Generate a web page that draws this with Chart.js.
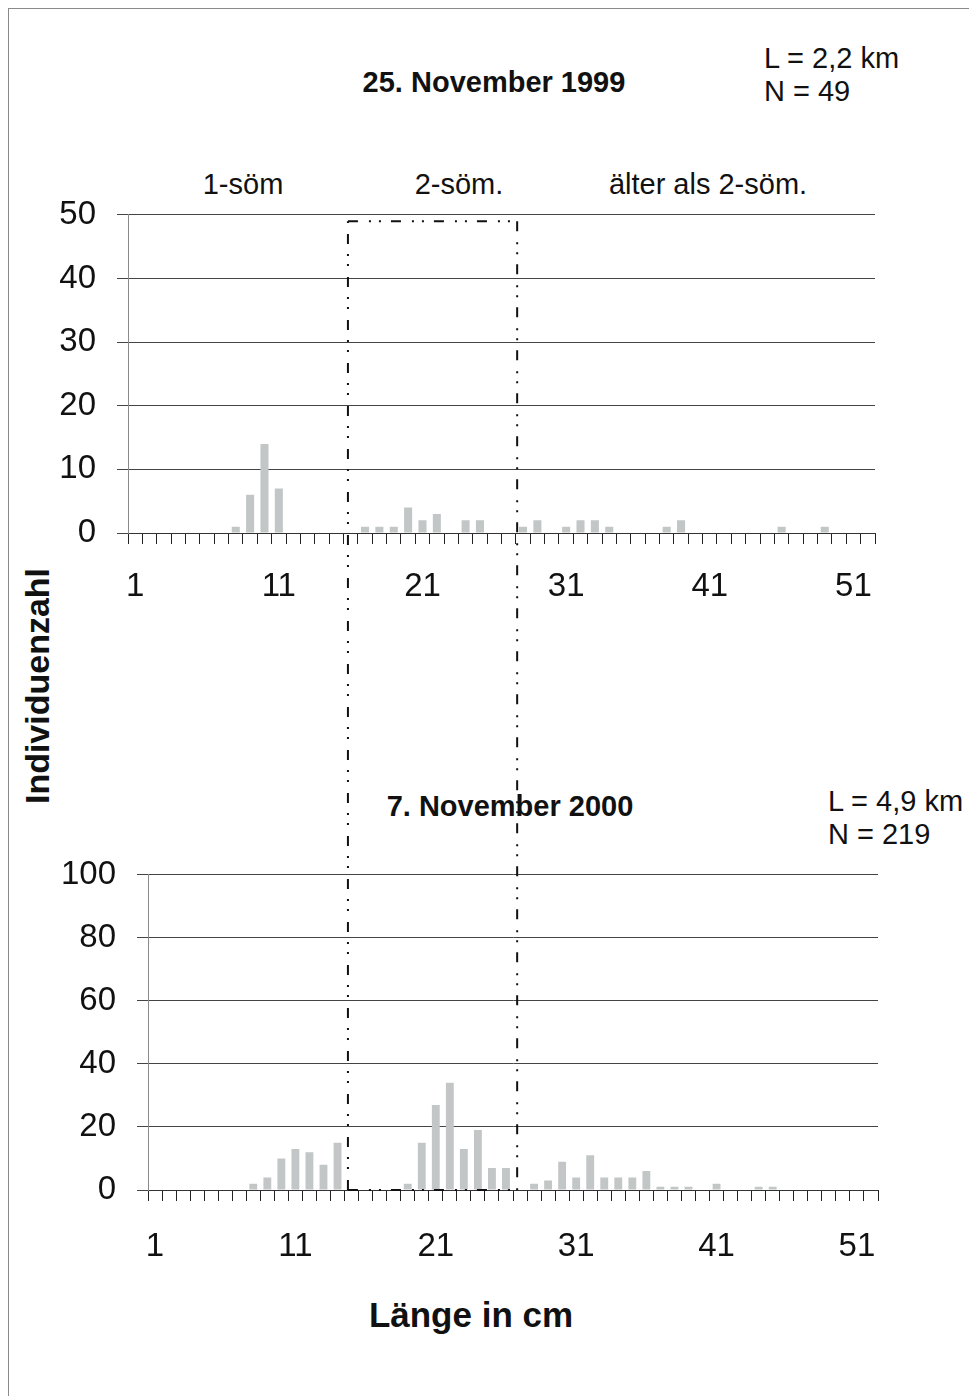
<!DOCTYPE html>
<html>
<head>
<meta charset="utf-8">
<script src="https://cdn.jsdelivr.net/npm/chart.js@4.4.1/dist/chart.umd.min.js"></script>
<style>
  html, body { margin: 0; padding: 0; background: #fff; }
  body { width: 970px; height: 1396px; position: relative; overflow: hidden;
         font-family: "Liberation Sans", Arial, sans-serif; color: #111; }
  .frame { position: absolute; left: 8px; top: 8px; width: 960px; height: 1400px;
           border-left: 1.5px solid #8a8a8a; border-top: 1.5px solid #8a8a8a; }
  .txt { position: absolute; line-height: 1; white-space: nowrap; }
  .c { transform: translate(-50%, -50%); }
  .l { transform: translate(0, -50%); }
  canvas { position: absolute; left: 0; }
</style>
</head>
<body>
<div class="frame"></div>

<div class="txt c" style="left:494px; top:82px; font-size:29px; font-weight:bold;">25. November 1999</div>
<div class="txt l" style="left:764px; top:58px; font-size:29px;">L = 2,2 km</div>
<div class="txt l" style="left:764px; top:91px; font-size:29px;">N = 49</div>
<div class="txt c" style="left:243px; top:184px; font-size:29px;">1-söm</div>
<div class="txt c" style="left:459px; top:184px; font-size:29px;">2-söm.</div>
<div class="txt c" style="left:708px; top:184px; font-size:29px;">älter als 2-söm.</div>

<div class="txt c" style="left:37px; top:686px; font-size:34px; font-weight:bold; transform: translate(-50%, -50%) rotate(-90deg);">Individuenzahl</div>

<div class="txt c" style="left:510px; top:806px; font-size:29px; font-weight:bold;">7. November 2000</div>
<div class="txt l" style="left:828px; top:801px; font-size:29px;">L = 4,9 km</div>
<div class="txt l" style="left:828px; top:834px; font-size:29px;">N = 219</div>

<div class="txt c" style="left:471px; top:1314px; font-size:35px; font-weight:bold;">Länge in cm</div>

<canvas id="chart1999" width="970" height="456" style="top:174px"></canvas>
<canvas id="chart2000" width="970" height="456" style="top:834px"></canvas>
<canvas id="overlay" width="970" height="1396" style="top:0; pointer-events:none"></canvas>

<script>
// Längenklassen (cm)
const laengen = ['1','2','3','4','5','6','7','8','9','10',
  '11','12','13','14','15','16','17','18','19','20',
  '21','22','23','24','25','26','27','28','29','30',
  '31','32','33','34','35','36','37','38','39','40',
  '41','42','43','44','45','46','47','48','49','50',
  '51','52'];

// 25. November 1999
const anzahl1999 = [0,0,0,0,0,0,0,1,6,14,
  7,0,0,0,0,0,1,1,1,4,
  2,3,0,2,2,0,0,1,2,0,
  1,2,2,1,0,0,0,1,2,0,
  0,0,0,0,0,1,0,0,1,0,
  0,0];

// 7. November 2000
const anzahl2000 = [0,0,0,0,0,0,0,2,4,10,
  13,12,8,15,0,0,0,0,2,15,
  27,34,13,19,7,7,0,2,3,9,
  4,11,4,4,4,6,1,1,1,0,
  2,0,0,1,1,0,0,0,0,0,
  0,0];

// y-Achsen
const yMax1999 = 50, yStep1999 = 10;
const yMax2000 = 100, yStep2000 = 20;

// Rahmen "2-söm." (Index auf der Längenachse 1999, Oberkante = N 1999)
const kohorteVon = 14.81;
const kohorteBis = 26.59;
const kohorteOben = 49;

const tickFont = { family: 'Liberation Sans, Arial, sans-serif', size: 33 };

const histogramm = (canvas, werte, yMax, yStep, g) => new Chart(canvas.getContext('2d'), {
  type: 'bar',
  data: {
    labels: laengen,
    datasets: [{
      data: werte,
      backgroundColor: '#c3c6c6',
      borderWidth: 0,
      barPercentage: 0.56,
      categoryPercentage: 1
    }]
  },
  options: {
    responsive: false,
    animation: false,
    events: [],
    layout: { padding: { top: 0, right: g.padRight, left: 0, bottom: 0 } },
    plugins: { legend: { display: false }, tooltip: { enabled: false } },
    scales: {
      x: {
        type: 'category',
        offset: true,
        afterFit: (s) => { s.height = g.xHeight; },
        grid: { offset: true, drawOnChartArea: false, drawTicks: true, tickLength: 11, color: '#222', lineWidth: 1 },
        border: { display: true, color: '#333', width: 1 },
        ticks: {
          autoSkip: false, maxRotation: 0, minRotation: 0,
          padding: g.xPad, color: '#111', font: tickFont,
          callback: (v, i) => (i % 10 === 0 ? laengen[i] : '')
        }
      },
      y: {
        min: 0, max: yMax,
        afterFit: (s) => { s.width = g.yWidth; },
        grid: { drawOnChartArea: true, drawTicks: true, tickLength: 11, color: '#444', lineWidth: 1 },
        border: { display: true, color: '#8a8a8a', width: 1 },
        ticks: { stepSize: yStep, padding: 21, color: '#111', font: tickFont }
      }
    }
  }
});

const off1 = 174, off2 = 834;
const c1999 = histogramm(document.getElementById('chart1999'), anzahl1999, yMax1999, yStep1999,
  { padRight: 95, xHeight: 97, yWidth: 128, xPad: 23 });
const c2000 = histogramm(document.getElementById('chart2000'), anzahl2000, yMax2000, yStep2000,
  { padRight: 92, xHeight: 100, yWidth: 148, xPad: 26 });

// Strich-Punkt-Punkt-Rahmen über beide Diagramme
const ov = document.getElementById('overlay').getContext('2d');
const xl = c1999.scales.x.getPixelForValue(kohorteVon);
const xr = c1999.scales.x.getPixelForValue(kohorteBis);
const yt = c1999.scales.y.getPixelForValue(kohorteOben) + off1;
const yb = c2000.scales.y.getPixelForValue(0) + off2;
ov.strokeStyle = '#111';
ov.lineWidth = 2;
ov.setLineDash([10, 11, 2, 8, 2, 10]);
ov.beginPath();
ov.moveTo(xl, yb); ov.lineTo(xl, yt);
ov.stroke();
ov.beginPath();
ov.moveTo(xl, yt); ov.lineTo(xr, yt);
ov.stroke();
ov.beginPath();
ov.moveTo(xr, yt); ov.lineTo(xr, yb);
ov.stroke();
ov.beginPath();
ov.moveTo(xl, yb); ov.lineTo(xr, yb);
ov.stroke();
</script>
</body>
</html>
